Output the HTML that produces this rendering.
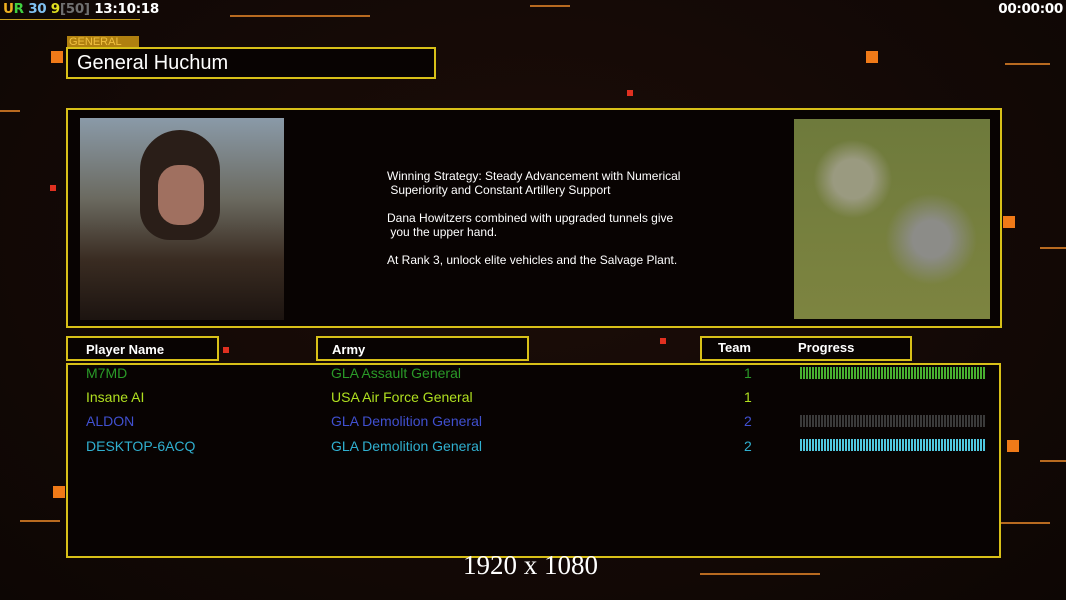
<!DOCTYPE html>
<html><head><style>
body{margin:0;width:1066px;height:600px;background:#120806;overflow:hidden;position:relative;font-family:"Liberation Sans",sans-serif}
.a{position:absolute}
.box{position:absolute;border:2px solid #d8c018;box-sizing:border-box;background:#080302}
.ln{position:absolute;background:#b86a20;height:2px}
.sq{position:absolute;background:#f07a18;width:12px;height:12px}
.row{position:absolute;font-size:14px}
.bar{position:absolute;left:800px;width:185px;height:12px;background:repeating-linear-gradient(90deg,var(--c) 0 2px,#0000 2px 3px)}
</style></head><body>
<div class="a" style="left:0;top:0;width:1066px;height:600px;background:radial-gradient(ellipse at 50% 40%,#1c0d08,#0d0604)"></div>
<div class="ln" style="left:230px;top:15px;width:140px"></div>
<div class="ln" style="left:530px;top:5px;width:40px"></div>
<div class="ln" style="left:1005px;top:63px;width:45px"></div>
<div class="ln" style="left:1040px;top:247px;width:26px"></div>
<div class="ln" style="left:1040px;top:460px;width:26px"></div>
<div class="ln" style="left:1000px;top:522px;width:50px"></div>
<div class="ln" style="left:20px;top:520px;width:40px"></div>
<div class="ln" style="left:0;top:110px;width:20px"></div>
<div class="ln" style="left:700px;top:573px;width:120px"></div>
<div class="ln" style="left:0;top:19px;width:140px;height:1px;background:#c9a020"></div>
<div class="sq" style="left:51px;top:51px"></div>
<div class="sq" style="left:866px;top:51px"></div>
<div class="sq" style="left:1003px;top:216px"></div>
<div class="sq" style="left:1007px;top:440px"></div>
<div class="sq" style="left:53px;top:486px"></div>
<div class="a" style="left:627px;top:90px;width:6px;height:6px;background:#e03020"></div>
<div class="a" style="left:50px;top:185px;width:6px;height:6px;background:#e03020"></div>
<div class="a" style="left:660px;top:338px;width:6px;height:6px;background:#e03020"></div>
<div class="a" style="left:223px;top:347px;width:6px;height:6px;background:#e03020"></div>
<div class="a" style="left:3px;top:1px;font-size:13.5px;font-weight:bold;font-family:'DejaVu Sans',sans-serif;white-space:nowrap;letter-spacing:-0.3px"><span style="color:#f0b020">U</span><span style="color:#40d040">R</span> <span style="color:#80c0f0">30</span> <span style="color:#e0e020">9</span><span style="color:#707070">[50]</span> <span style="color:#fff">13:10:18</span></div>
<div class="a" style="right:3px;top:1px;font-size:13.5px;font-weight:bold;font-family:'DejaVu Sans',sans-serif;color:#fff;letter-spacing:-0.3px">00:00:00</div>
<div class="a" style="left:67px;top:36px;width:70px;height:12px;background:#b08010;color:#f0c040;font-size:11px;line-height:12px;padding-left:2px">GENERAL</div>
<div class="box" style="left:66px;top:47px;width:370px;height:32px;color:#fff;font-size:20px;padding:3px 9px">General Huchum</div>
<div class="box" style="left:66px;top:108px;width:936px;height:220px"></div>
<div class="a" style="left:80px;top:118px;width:204px;height:202px;background:linear-gradient(180deg,#8a9aa8 0%,#6b6a60 40%,#3a2c22 70%,#1c1410 100%)"></div>
<div class="a" style="left:140px;top:130px;width:80px;height:110px;border-radius:40px 40px 30px 30px;background:#2a1e18"></div>
<div class="a" style="left:158px;top:165px;width:46px;height:60px;border-radius:20px;background:#a07060"></div>
<div class="a" style="left:387px;top:169px;color:#fff;font-size:12px;line-height:14px;white-space:pre">Winning Strategy: Steady Advancement with Numerical
 Superiority and Constant Artillery Support

Dana Howitzers combined with upgraded tunnels give
 you the upper hand.

At Rank 3, unlock elite vehicles and the Salvage Plant.</div>
<div class="a" style="left:794px;top:119px;width:196px;height:200px;background:#77803f;background-image:radial-gradient(circle at 30% 30%,#9a9a80 0 10%,#0000 20%),radial-gradient(circle at 70% 60%,#8c8c88 0 10%,#0000 25%),linear-gradient(#6e7a3c,#7d8440)"></div>
<div class="box" style="left:66px;top:336px;width:153px;height:25px;color:#fff;font-size:13px;font-weight:bold;padding:4px 18px">Player Name</div>
<div class="box" style="left:316px;top:336px;width:213px;height:25px;color:#fff;font-size:13px;font-weight:bold;padding:4px 14px">Army</div>
<div class="box" style="left:700px;top:336px;width:212px;height:25px;color:#fff;font-size:13px;font-weight:bold"><span class="a" style="left:16px;top:2px">Team</span><span class="a" style="left:96px;top:2px">Progress</span></div>
<div class="box" style="left:66px;top:363px;width:935px;height:195px"></div>
<div class="row" style="left:86px;top:365px;color:#2a9a28">M7MD</div>
<div class="row" style="left:331px;top:365px;color:#2a9a28">GLA Assault General</div>
<div class="row" style="left:744px;top:365px;color:#2a9a28">1</div>
<div class="bar" style="top:367px;--c:#48b030"></div>
<div class="row" style="left:86px;top:389px;color:#b0e020">Insane AI</div>
<div class="row" style="left:331px;top:389px;color:#b0e020">USA Air Force General</div>
<div class="row" style="left:744px;top:389px;color:#b0e020">1</div>
<div class="row" style="left:86px;top:413px;color:#4050d0">ALDON</div>
<div class="row" style="left:331px;top:413px;color:#4050d0">GLA Demolition General</div>
<div class="row" style="left:744px;top:413px;color:#4050d0">2</div>
<div class="bar" style="top:415px;--c:#3a3a3a"></div>
<div class="row" style="left:86px;top:438px;color:#30b0d0">DESKTOP-6ACQ</div>
<div class="row" style="left:331px;top:438px;color:#30b0d0">GLA Demolition General</div>
<div class="row" style="left:744px;top:438px;color:#30b0d0">2</div>
<div class="bar" style="top:439px;--c:#50c8e0"></div>
<div class="a" style="left:463px;top:550px;color:#fff;font-size:27px;font-family:'Liberation Serif',serif">1920 x 1080</div>
</body></html>
